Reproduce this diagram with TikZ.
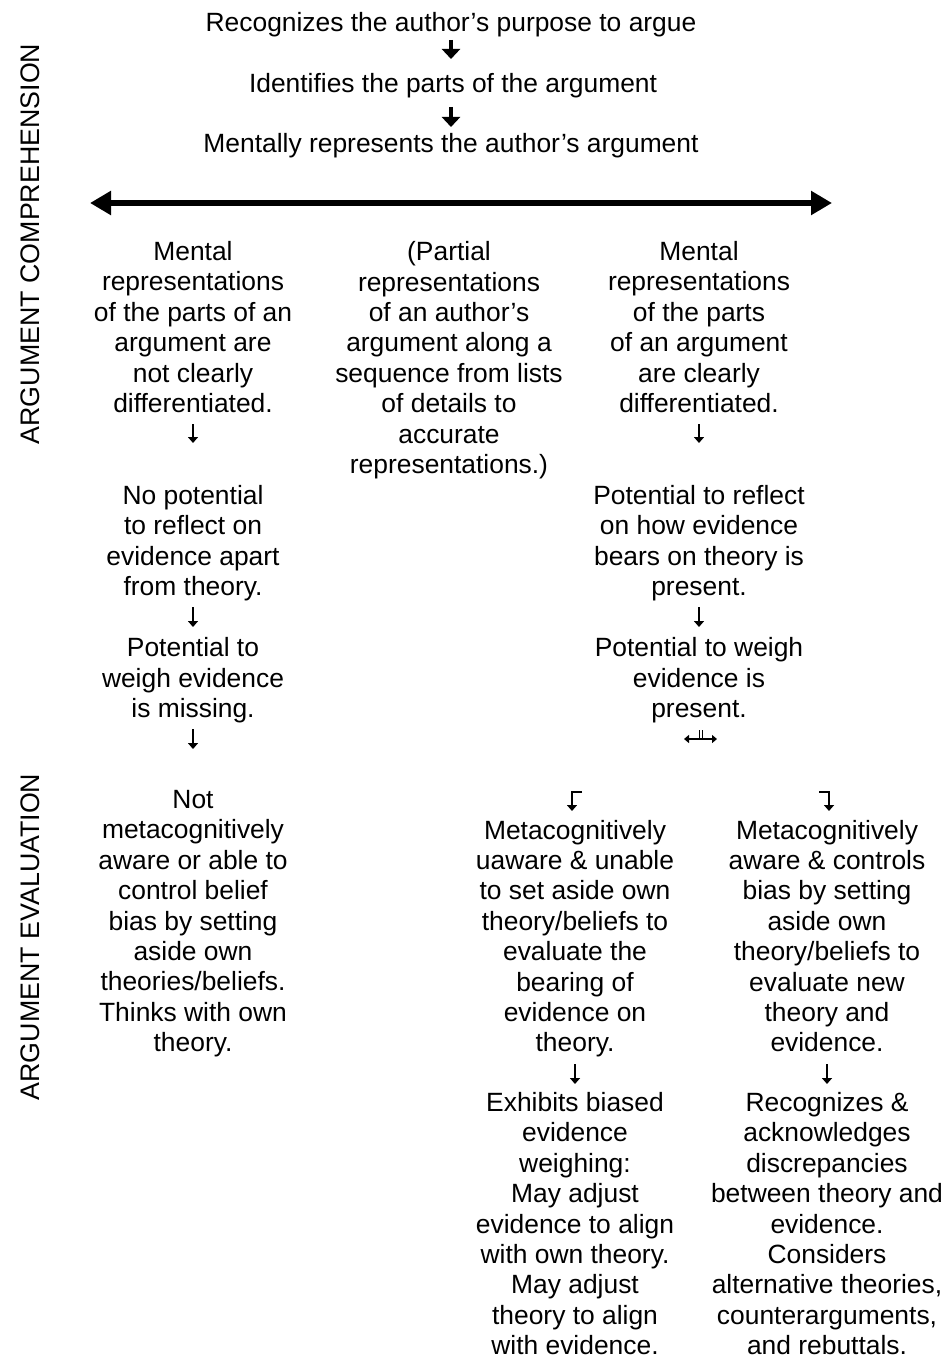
\documentclass[tikz,border=0pt]{standalone}
\usepackage{fontspec}
\setmainfont{Liberation Sans}
\usetikzlibrary{arrows.meta}
\begin{document}
\begin{tikzpicture}[x=0.5pt,y=-0.5pt,
  txt/.style={align=center, inner sep=0pt, font=\fontsize{13.2}{15.2}\selectfont,
    execute at begin node=\strut, execute at end node=\strut},
  side/.style={rotate=90, inner sep=0pt, font=\fontsize{13.4}{15}\selectfont},
  bigarr/.style={line width=3.35pt, {Triangle[length=10.5pt,width=11.5pt]}-{Triangle[length=10.5pt,width=11.5pt]}},
  boldarr/.style={line width=2pt, -{Triangle[length=5pt,width=9pt]}},
  sarr/.style={line width=0.75pt, -{Triangle[length=3pt,width=5pt]}},
  sdarr/.style={line width=0.75pt, {Triangle[length=2.5pt,width=4pt]}-{Triangle[length=2.5pt,width=4pt]}},
]
\useasboundingbox (0,0) rectangle (945,1359);

% side labels
\node[side] (sc) at (30,244) {ARGUMENT COMPREHENSION};
\node[side] (se) at (30,937) {ARGUMENT EVALUATION};

% top sequence
\node[txt] (T1) at (451,25) {Recognizes the author’s purpose to argue};
\node[txt] (T2) at (453,86) {Identifies the parts of the argument};
\node[txt] (T3) at (451,146) {Mentally represents the author’s argument};
\draw[boldarr, shorten <=7.5pt, shorten >=13.5pt] (T1.center) -- (T1.center |- T2.center);
\draw[boldarr, shorten <=10.5pt, shorten >=9.5pt] (T1.center |- T2.center) -- (T3.center);

% big double arrow
\coordinate (bl) at (90,203);
\coordinate (br) at (832,203);
\draw[bigarr] (bl) -- (br);

% left column
\node[txt] (L1) at (193,331.5) {Mental\\representations\\of the parts of an\\argument are\\not clearly\\differentiated.};
\node[txt] (L2) at (193,545) {No potential\\to reflect on\\evidence apart\\from theory.};
\node[txt] (L3) at (193,682) {Potential to\\weigh evidence\\is missing.};
\node[txt] (L4) at (193,925.5) {Not\\metacognitively\\aware or able to\\control belief\\bias by setting\\aside own\\theories/beliefs.\\Thinks with own\\theory.};
\draw[sarr, shorten <=46.25pt, shorten >=51pt] (L1.center) -- (L2.center);
\draw[sarr, shorten <=31pt, shorten >=27.5pt] (L2.center) -- (L3.center);
\draw[sarr, shorten <=23.5pt, shorten >=88.25pt] (L3.center) -- (L4.center);

% middle column
\node[txt] (M) at (449,362) {(Partial\\representations\\of an author’s\\argument along a\\sequence from lists\\of details to\\accurate\\representations.)};

% right column
\node[txt] (R1) at (699,331.5) {Mental\\representations\\of the parts\\of an argument\\are clearly\\differentiated.};
\node[txt] (R2) at (699,545) {Potential to reflect\\on how evidence\\bears on theory is\\present.};
\node[txt] (R3) at (699,682) {Potential to weigh\\evidence is\\present.};
\draw[sarr, shorten <=46.25pt, shorten >=51pt] (R1.center) -- (R2.center);
\draw[sarr, shorten <=31pt, shorten >=27.5pt] (R2.center) -- (R3.center);

% split marker
\coordinate (dl) at (684,739);
\coordinate (dr) at (717,739);
\draw[sdarr] (dl) -- (dr);
\draw[line width=0.6pt] (699.5,730) -- (699.5,739) (702.5,730) -- (702.5,739);

% corner arrows
\coordinate (cl0) at (582,792);
\coordinate (cl1) at (572,811);
\coordinate (cr0) at (819,792);
\coordinate (cr1) at (829,811);
\draw[sarr] (cl0) -| (cl1);
\draw[sarr] (cr0) -| (cr1);

% bottom columns
\node[txt] (BL1) at (575,940.5) {Metacognitively\\uaware \& unable\\to set aside own\\theory/beliefs to\\evaluate the\\bearing of\\evidence on\\theory.};
\node[txt] (BL2) at (575,1228) {Exhibits biased\\evidence\\weighing:\\May adjust\\evidence to align\\with own theory.\\May adjust\\theory to align\\with evidence.};
\node[txt] (BR1) at (827,940.5) {Metacognitively\\aware \& controls\\bias by setting\\aside own\\theory/beliefs to\\evaluate new\\theory and\\evidence.};
\node[txt] (BR2) at (827,1228) {Recognizes \&\\acknowledges\\discrepancies\\between theory and\\evidence.\\Considers\\alternative theories,\\counterarguments,\\and rebuttals.};
\draw[sarr, shorten <=61.75pt, shorten >=72pt] (BL1.center) -- (BL2.center);
\draw[sarr, shorten <=61.75pt, shorten >=72pt] (BR1.center) -- (BR2.center);
\end{tikzpicture}
\end{document}
